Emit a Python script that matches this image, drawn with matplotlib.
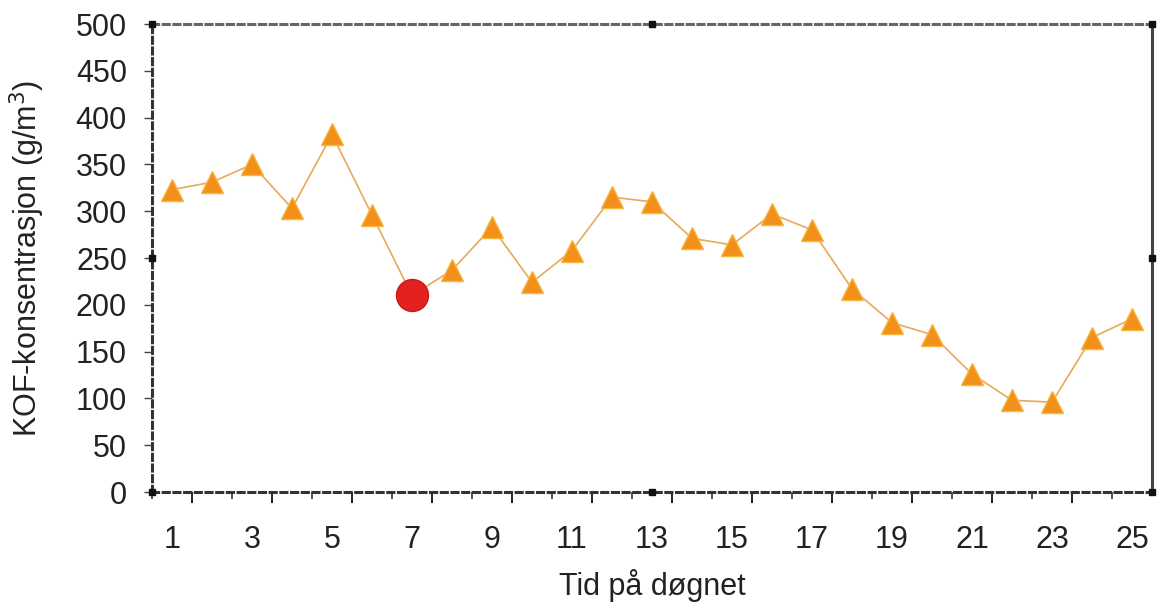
import matplotlib
matplotlib.use("Agg")
import matplotlib.pyplot as plt
import numpy as np

plt.rcParams['font.family'] = ['Liberation Sans', 'DejaVu Sans']

hours = list(range(1, 26))
kof = [323, 331, 350, 303, 382, 296, 210, 237, 283, 224, 258, 315, 310,
       271, 264, 297, 280, 217, 181, 168, 126, 98, 96, 165, 185]
highlight_hour = 7
xtick_labels = [str(h) for h in range(1, 26, 2)]
ytick_values = list(range(0, 501, 50))

fig = plt.figure(figsize=(11.6, 6.02), dpi=100)
ax = fig.add_axes([152/1160, 1 - 492/602, 1000/1160, 468/602])

ax.plot(hours, kof, color='#E9A85A', lw=1.2, zorder=2)
tri_x = [h for h in hours if h != highlight_hour]
tri_y = [v for h, v in zip(hours, kof) if h != highlight_hour]
ax.plot(tri_x, tri_y, ls='none', marker='^', ms=16, mfc='#F39019',
        mec='#F8B640', mew=1.0, zorder=3)
hi = hours.index(highlight_hour)
ax.plot([hours[hi]], [kof[hi]], ls='none', marker='o', ms=23,
        mfc='#E52020', mec='#C81818', mew=1.0, zorder=4)

ax.set_xlim(0.5, 25.5)
ax.set_ylim(0, 500)

# x ticks: marks between categories (alternating lengths), labels at odd categories
ax.set_xticks(np.arange(0.5, 25.6, 2.0), minor=True)
ax.set_xticks(list(range(1, 26, 2)))
ax.set_xticklabels(xtick_labels)
ax.tick_params(axis='x', which='major', length=0, pad=24, labelsize=22,
               labelcolor='#222222')
ax.tick_params(axis='x', which='minor', length=5, width=1.2, direction='out',
               color='#333333')
sec = ax.secondary_xaxis(0)
sec.set_xticks(np.arange(1.5, 25.0, 2.0))
sec.set_xticklabels([])
sec.tick_params(axis='x', length=8, width=1.4, direction='out', color='#222222')
sec.spines['bottom'].set_visible(False)

ax.set_yticks(ytick_values)
ax.tick_params(axis='y', which='major', length=6, width=1.0, direction='out',
               pad=12, labelsize=22, labelcolor='#222222', color='#444444')

for side, sp in ax.spines.items():
    sp.set_linestyle((0, (2, 1.5)))
    sp.set_linewidth(2.2)
    sp.set_color('#333333')
ax.spines['top'].set_color('#666666')
ax.spines['right'].set_linestyle('-')
ax.spines['right'].set_color('#444444')

# selection handles on the frame
hx = [0, 0.5, 1, 1, 1, 0.5, 0, 0]
hy = [1, 1, 1, 0.5, 0, 0, 0, 0.5]
ax.plot(hx, hy, ls='none', marker='s', ms=4, color='#111111',
        transform=ax.transAxes, clip_on=False, zorder=5)

ax.set_xlabel('Tid på døgnet', fontsize=22, color='#222222')
ax.xaxis.set_label_coords(0.5, -(569 - 492) / 468)
ax.set_ylabel('KOF-konsentrasjon (g/m$^3$)', fontsize=22, color='#222222')
ax.yaxis.set_label_coords(-(152 - 47) / 1000, 0.5)

fig.savefig('out.png', dpi=100)
